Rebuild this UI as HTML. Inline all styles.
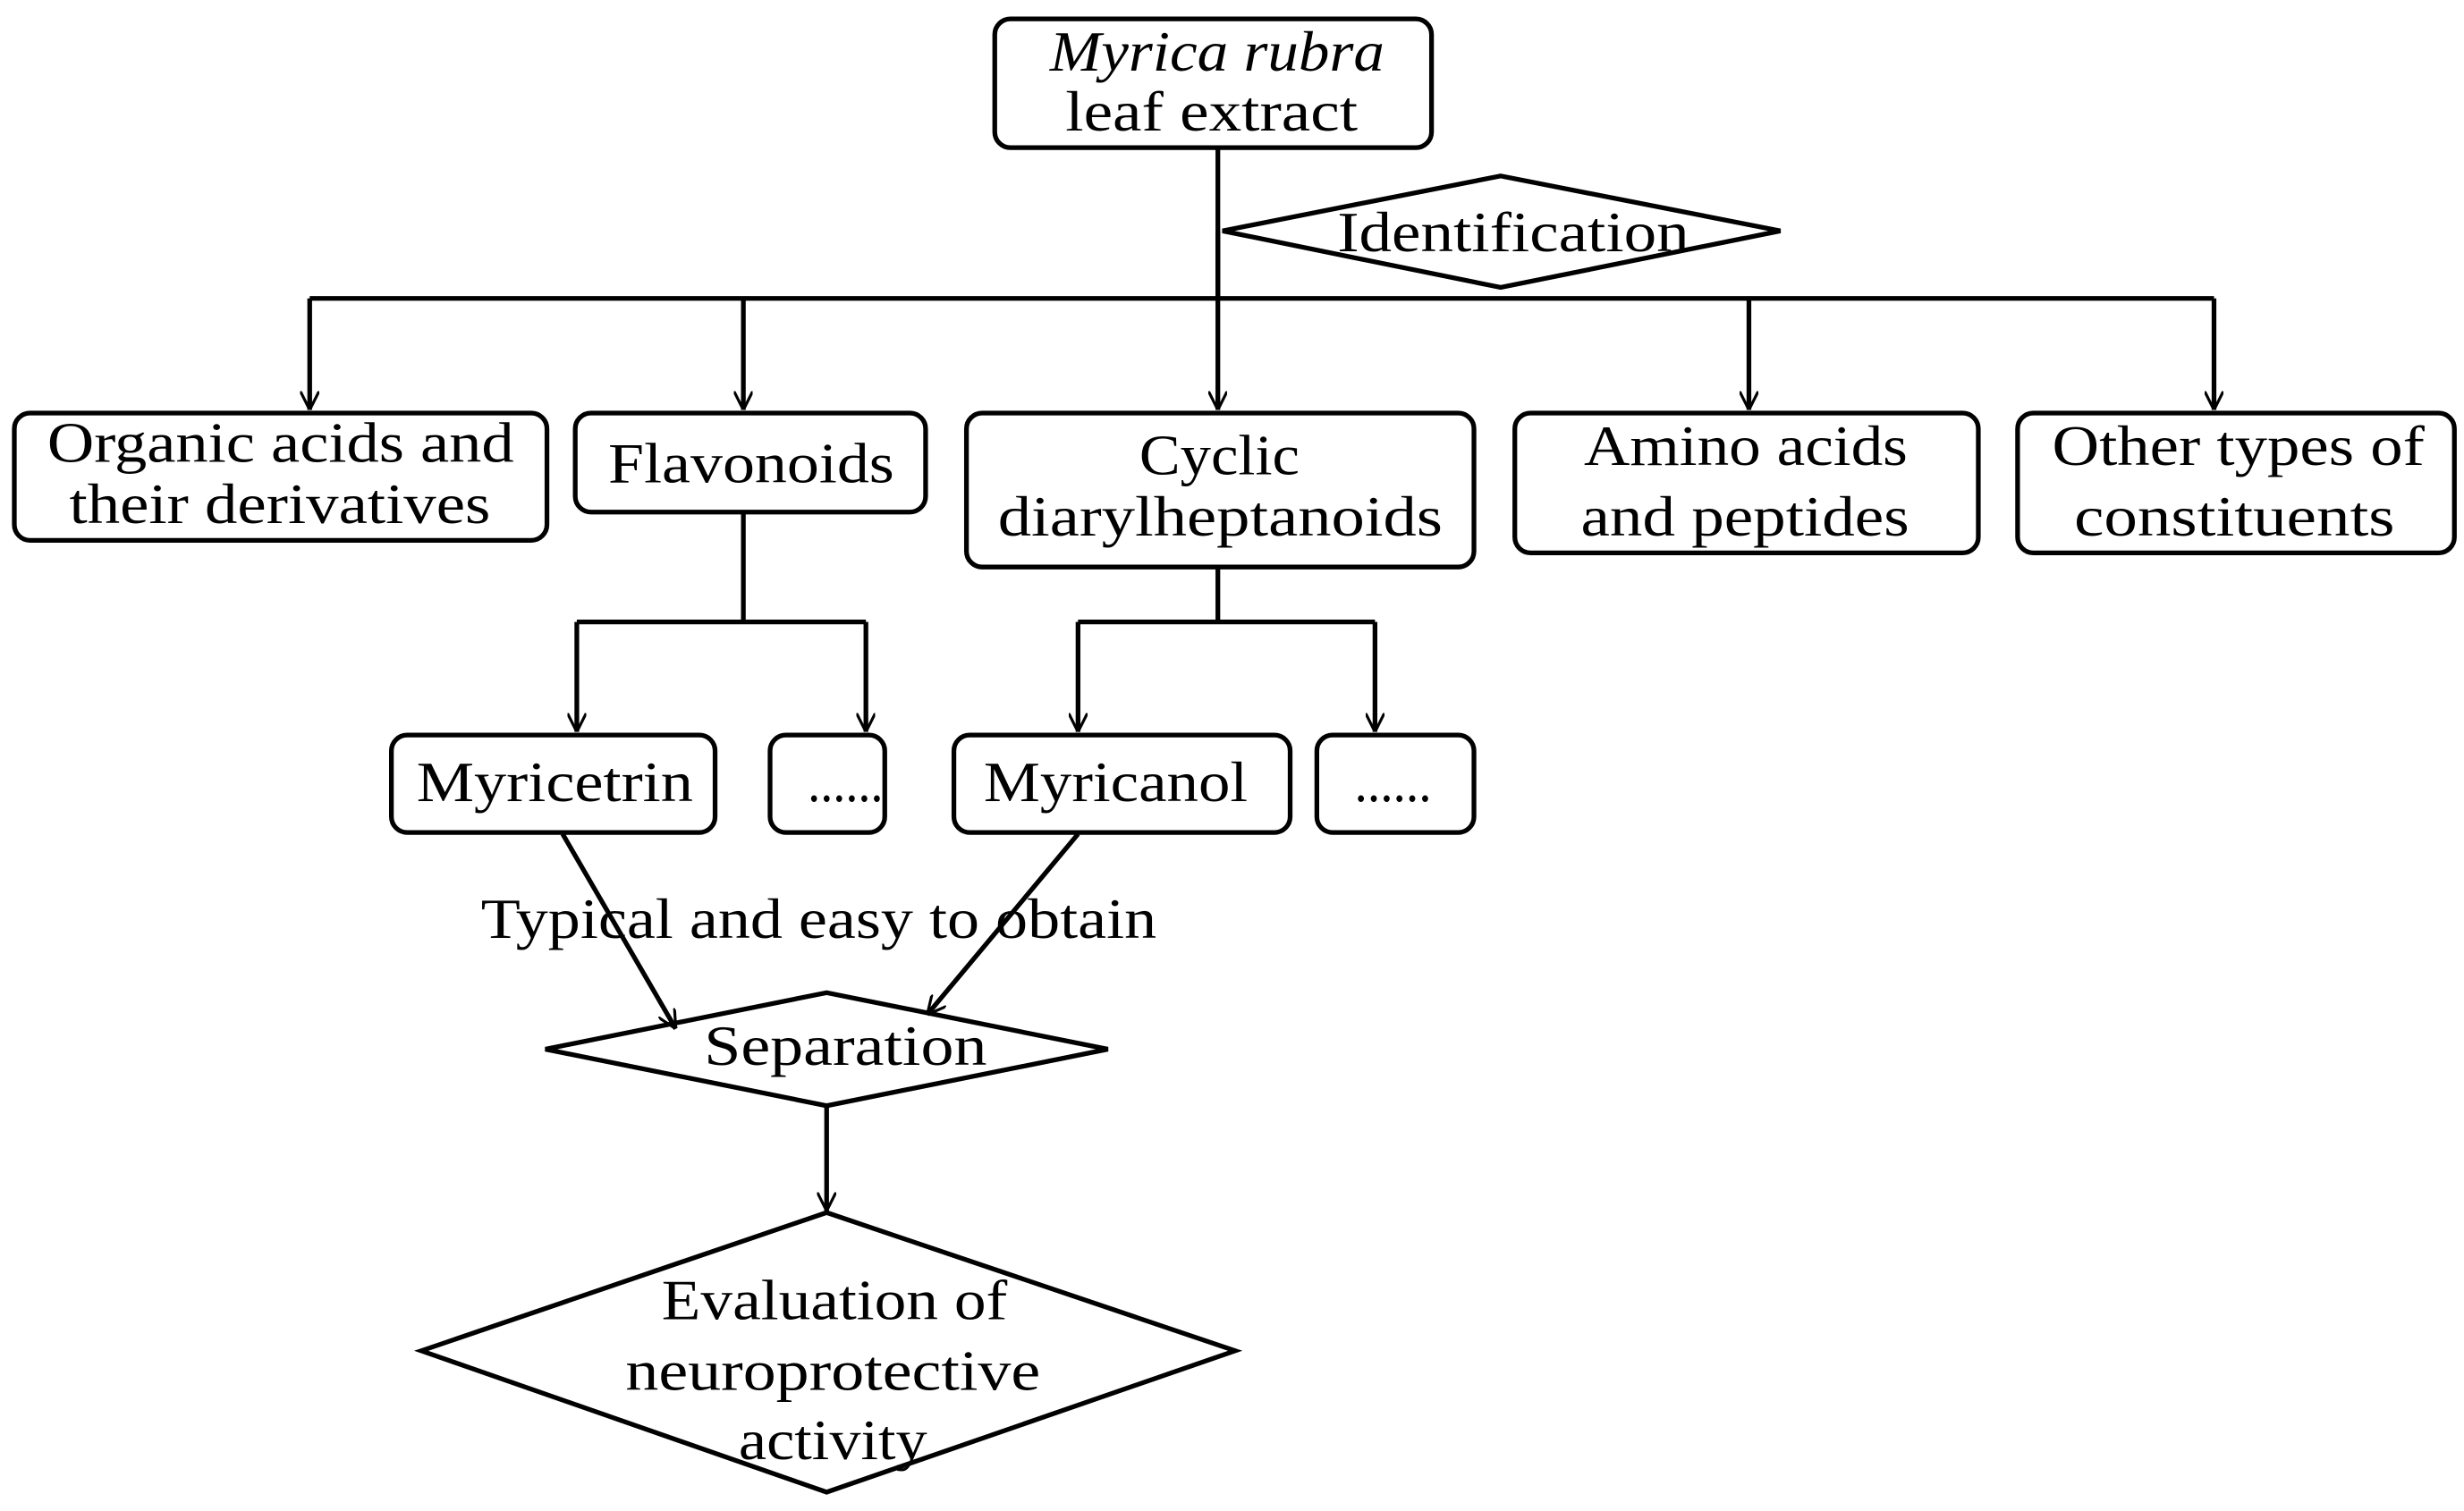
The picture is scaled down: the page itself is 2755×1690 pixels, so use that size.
<!DOCTYPE html>
<html><head><meta charset="utf-8"><style>
html,body{margin:0;padding:0;background:#fff;}
svg{display:block;}
text{font-family:"Liberation Serif",serif;font-size:36px;fill:#000;text-anchor:start;}
</style></head><body>
<svg width="2755" height="1690" viewBox="0 0 1568 962" xmlns="http://www.w3.org/2000/svg">
<defs><marker id="a" viewBox="0 0 10 10" refX="10" refY="5" markerWidth="12" markerHeight="12" markerUnits="userSpaceOnUse" orient="auto"><path d="M0,0 L10,5 L0,10" fill="none" stroke="#000" stroke-width="1.5"/></marker></defs>
<g fill="none" stroke="#000" stroke-width="3">
<rect x="633" y="12" width="278" height="82" rx="10"/>
<line x1="775" y1="94" x2="775" y2="261" marker-end="url(#a)"/>
<polygon points="778,147 955,112 1133,147 955,183" fill="#fff"/>
<line x1="775" y1="147" x2="775" y2="190"/>
<line x1="197" y1="190" x2="1409" y2="190"/>
<line x1="197" y1="190" x2="197" y2="261" marker-end="url(#a)"/>
<line x1="473" y1="190" x2="473" y2="261" marker-end="url(#a)"/>
<line x1="1113" y1="190" x2="1113" y2="261" marker-end="url(#a)"/>
<line x1="1409" y1="190" x2="1409" y2="261" marker-end="url(#a)"/>
<rect x="9" y="263" width="339" height="81" rx="10"/>
<rect x="366" y="263" width="223" height="63" rx="10"/>
<rect x="615" y="263" width="323" height="98" rx="10"/>
<rect x="964" y="263" width="295" height="89" rx="10"/>
<rect x="1284" y="263" width="278" height="89" rx="10"/>
<line x1="473" y1="326" x2="473" y2="396"/>
<line x1="367" y1="396" x2="551" y2="396"/>
<line x1="367" y1="396" x2="367" y2="466" marker-end="url(#a)"/>
<line x1="551" y1="396" x2="551" y2="466" marker-end="url(#a)"/>
<line x1="775" y1="361" x2="775" y2="396"/>
<line x1="686" y1="396" x2="875" y2="396"/>
<line x1="686" y1="396" x2="686" y2="466" marker-end="url(#a)"/>
<line x1="875" y1="396" x2="875" y2="466" marker-end="url(#a)"/>
<rect x="249" y="468" width="206" height="62" rx="10"/>
<rect x="490" y="468" width="73" height="62" rx="10"/>
<rect x="607" y="468" width="214" height="62" rx="10"/>
<rect x="838" y="468" width="100" height="62" rx="10"/>
<line x1="358" y1="531" x2="430" y2="655" marker-end="url(#a)"/>
<line x1="686" y1="531" x2="590" y2="646" marker-end="url(#a)"/>
<polygon points="347,668 526,632 705,668 526,704"/>
<line x1="526" y1="704" x2="526" y2="771" marker-end="url(#a)"/>
<polygon points="268,860 526,772 786,860 526,950"/>
</g>
<g>
<text x="668" y="45" font-style="italic" textLength="213" lengthAdjust="spacingAndGlyphs">Myrica rubra</text>
<text x="678" y="83" textLength="186" lengthAdjust="spacingAndGlyphs">leaf extract</text>
<text x="851" y="160" textLength="224" lengthAdjust="spacingAndGlyphs">Identification</text>
<text x="30" y="294" textLength="297" lengthAdjust="spacingAndGlyphs">Organic acids and</text>
<text x="44" y="333" textLength="268" lengthAdjust="spacingAndGlyphs">their derivatives</text>
<text x="387" y="307" textLength="182" lengthAdjust="spacingAndGlyphs">Flavonoids</text>
<text x="725" y="302" textLength="102" lengthAdjust="spacingAndGlyphs">Cyclic</text>
<text x="635" y="341" textLength="283" lengthAdjust="spacingAndGlyphs">diarylheptanoids</text>
<text x="1008" y="296" textLength="206" lengthAdjust="spacingAndGlyphs">Amino acids</text>
<text x="1006" y="341" textLength="209" lengthAdjust="spacingAndGlyphs">and peptides</text>
<text x="1306" y="296" textLength="237" lengthAdjust="spacingAndGlyphs">Other types of</text>
<text x="1320" y="341" textLength="204" lengthAdjust="spacingAndGlyphs">constituents</text>
<text x="265" y="510" textLength="176" lengthAdjust="spacingAndGlyphs">Myricetrin</text>
<text x="514" y="510" textLength="48" lengthAdjust="spacingAndGlyphs">......</text>
<text x="626" y="510" textLength="168" lengthAdjust="spacingAndGlyphs">Myricanol</text>
<text x="862" y="510" textLength="49" lengthAdjust="spacingAndGlyphs">......</text>
<text x="306" y="597" textLength="430" lengthAdjust="spacingAndGlyphs">Typical and easy to obtain</text>
<text x="448" y="678" textLength="180" lengthAdjust="spacingAndGlyphs">Separation</text>
<text x="421" y="840" textLength="220" lengthAdjust="spacingAndGlyphs">Evaluation of</text>
<text x="398" y="885" textLength="264" lengthAdjust="spacingAndGlyphs">neuroprotective</text>
<text x="470" y="929" textLength="120" lengthAdjust="spacingAndGlyphs">activity</text>
</g>
</svg>
</body></html>
